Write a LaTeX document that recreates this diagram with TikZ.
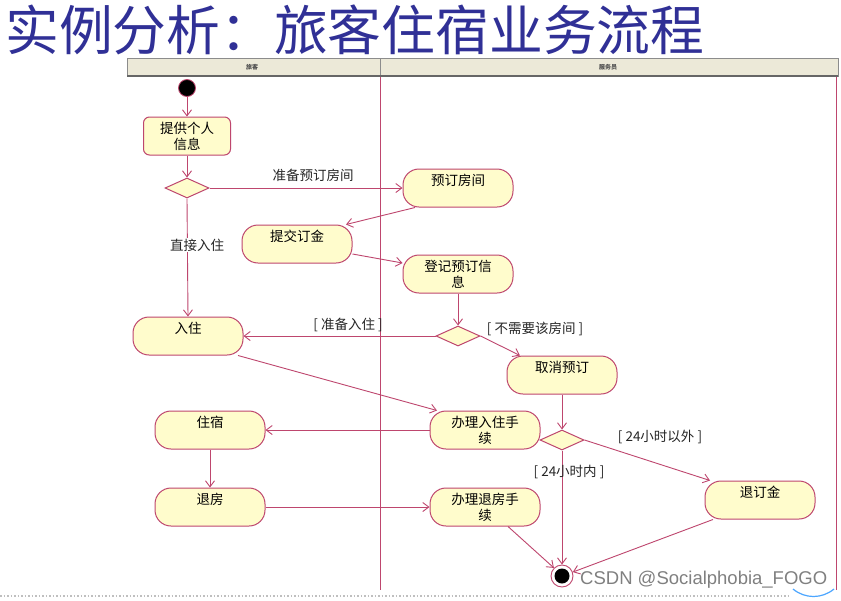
\documentclass[tikz,border=0pt]{standalone}
\usepackage{fontspec}
\setmainfont{Noto Sans CJK SC}
\newfontfamily\wmfont{Liberation Sans}
\usetikzlibrary{arrows.meta,shapes.geometric}
\definecolor{edgec}{RGB}{190,70,110}
\definecolor{actfill}{RGB}{255,252,204}
\definecolor{hdrfill}{RGB}{236,233,216}
\definecolor{titleblue}{RGB}{48,48,150}
\begin{document}
\begin{tikzpicture}[x=1pt,y=-1pt,
  act/.style={draw=edgec, fill=actfill, line width=1pt, rounded corners=16pt,
    minimum width=110pt, minimum height=38pt, inner sep=0pt, align=center,
    font=\fontsize{13.5}{16}\selectfont},
  dec/.style={diamond, draw=edgec, fill=actfill, line width=1pt, aspect=2.2,
    minimum width=44pt, minimum height=20pt, inner sep=0pt},
  arr/.style={draw=edgec, line width=0.9pt, -{Straight Barb[length=6pt,width=9pt]}},
  lbl/.style={inner sep=1pt, font=\fontsize{13.5}{16}\selectfont, text=black!85},
  hdr/.style={inner sep=0pt, font=\fontsize{6}{6}\selectfont\bfseries, text=black!70}
]
\useasboundingbox (0,0) rectangle (841,600);
\fill[white] (0,0) rectangle (841,600);
% title
\node[anchor=west, inner sep=0pt, text=titleblue, font=\fontsize{53.8}{54}\selectfont] (title) at (5,30) {实例分析：旅客住宿业务流程};
% swimlane header
\draw[black!45, fill=hdrfill, line width=0.6pt] (127,58) rectangle (838,76);
\draw[black!45, line width=0.8pt] (380,58) -- (380,76);
\draw[black!60, line width=2pt] (127,76) -- (838,76);
\node[hdr] (h1) at (252,67) {旅客};
\node[hdr] (h2) at (608,67) {服务员};
\draw[edgec, line width=0.9pt] (380,77) -- (380,590);
\draw[edgec, line width=0.9pt] (836,77) -- (836,590);
% nodes
\node[circle, fill=black, draw=edgec, line width=0.8pt, minimum size=17pt, inner sep=0pt] (start) at (187,88) {};
\node[act, rounded corners=6pt, minimum width=87pt] (info) at (187,136) {提供个人\\信息};
\node[dec] (d1) at (187,188) {};
\node[act] (book) at (458,188) {预订房间\\\phantom{字}};
\node[act] (dep) at (297,244) {提交订金\\\phantom{字}};
\node[act] (reg) at (458,274) {登记预订信\\息};
\node[dec] (d2) at (458,336) {};
\node[act] (checkin) at (188,336) {入住\\\phantom{字}};
\node[act] (cancel) at (562,375) {取消预订\\\phantom{字}};
\node[act] (inproc) at (485,430) {办理入住手\\续};
\node[dec] (d3) at (562,440) {};
\node[act] (stay) at (210,430) {住宿\\\phantom{字}};
\node[act] (checkout) at (210,507) {退房\\\phantom{字}};
\node[act] (outproc) at (485,507) {办理退房手\\续};
\node[act] (refund) at (760,500) {退订金\\\phantom{字}};
\node[circle, draw=edgec, fill=white, line width=0.9pt, minimum size=22pt, inner sep=0pt] (end) at (562,576) {};
\node[circle, fill=black, minimum size=15pt, inner sep=0pt] (endin) at (562,576) {};
% edges
\draw[arr] (start) -- (info);
\draw[arr] (info) -- (d1);
\draw[arr] (d1.east) -- (book.west);
\draw[arr] ([xshift=-43pt]book.south) -- ([xshift=49pt]dep.north);
\draw[arr] ([yshift=-10pt]dep.east) -- ([yshift=11pt]reg.west);
\draw[arr] (reg) -- (d2);
\draw[arr] (d2.west) -- (checkin.east);
\draw[arr] (d2.east) -- ([xshift=-42pt]cancel.north);
\draw[arr] (d1.south) -- (checkin.north);
\draw[arr] ([xshift=50pt]checkin.south) -- ([xshift=-48pt]inproc.north);
\draw[arr] (cancel) -- (d3);
\draw[arr] (inproc.west) -- (stay.east);
\draw[arr] (stay) -- (checkout);
\draw[arr] (d3.east) -- ([xshift=-50pt]refund.north);
\draw[arr] (d3.south) -- (end.north);
\draw[arr] (checkout.east) -- (outproc.west);
\draw[arr] ([xshift=23pt]outproc.south) -- (end.135);
\draw[arr] ([xshift=-47pt]refund.south) -- (end.20);
% labels
\node[lbl] (l1) at (313,175) {准备预订房间};
\node[lbl, fill=white] (l2) at (197,245) {直接入住};
\node[lbl] (l3) at (348,325) {[ 准备入住 ]};
\node[lbl] (l4) at (535,329) {[ 不需要该房间 ]};
\node[lbl] (l5) at (660,437) {[ 24小时以外 ]};
\node[lbl] (l6) at (569,472) {[ 24小时内 ]};
% bottom artefacts
\draw[black!25, dotted, line width=1.5pt] (0,596) -- (790,596);
\draw[blue!50!cyan!70, line width=1.2pt] (793,589) .. controls (805,599) and (822,599) .. (834,589);
\node[anchor=west, inner sep=0pt, text=black!50, font=\wmfont\fontsize{18.5}{18}\selectfont] (wm) at (580,580) {CSDN @Socialphobia\_FOGO};
\end{tikzpicture}
\end{document}
